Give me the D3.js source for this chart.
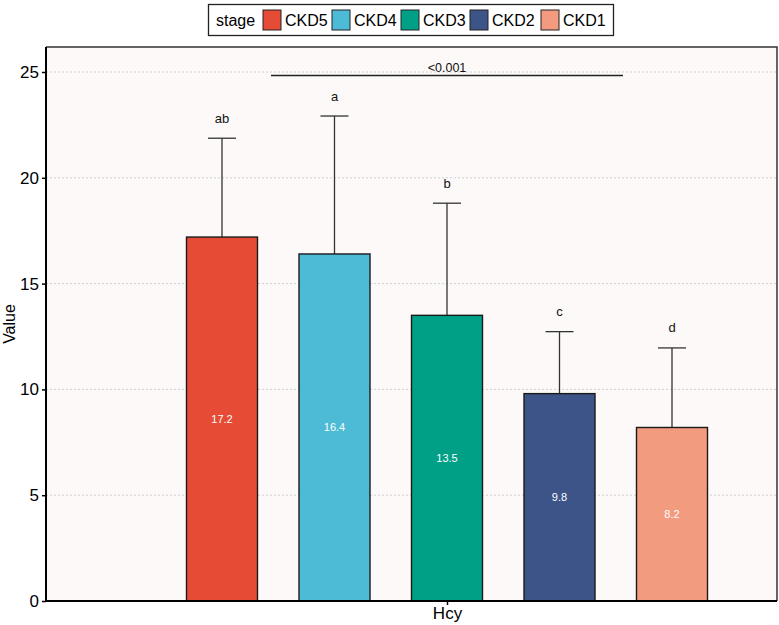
<!DOCTYPE html>
<html>
<head>
<meta charset="utf-8">
<script src="https://cdn.jsdelivr.net/npm/d3@7/dist/d3.min.js"></script>
<style>
  html, body { margin: 0; padding: 0; background: #ffffff; }
  svg { display: block; font-family: "Liberation Sans", Arial, Helvetica, sans-serif; }
</style>
</head>
<body>
<svg id="chart" width="779" height="625"></svg>
<script>
const stages = ["CKD5", "CKD4", "CKD3", "CKD2", "CKD1"];
const means = [17.2, 16.4, 13.5, 9.8, 8.2];
const upperErr = [21.87, 22.92, 18.8, 12.73, 11.96];
const letters = ["ab", "a", "b", "c", "d"];
const colors = ["#E64B35", "#4DBBD5", "#00A087", "#3C5488", "#F39B7F"];
const yTicks = [0, 5, 10, 15, 20, 25];
const variable = "Hcy";
const pLabel = "<0.001";

const svg = d3.select("#chart");
const panel = { left: 46, right: 777, top: 47, bottom: 601 };

const y = d3.scaleLinear().domain([0, 25]).range([601, 72]);
const x = d3.scalePoint().domain(stages).range([222, 672]);
const barW = 71;
const capW = 28;

// panel background
svg.append("rect")
  .attr("x", panel.left).attr("y", panel.top)
  .attr("width", panel.right - panel.left).attr("height", panel.bottom - panel.top)
  .attr("fill", "#FDF9F8");

// grid
svg.append("g").selectAll("line").data(yTicks.filter(d => d > 0)).join("line")
  .attr("x1", panel.left).attr("x2", panel.right)
  .attr("y1", d => y(d)).attr("y2", d => y(d))
  .attr("stroke", "#d0d0d0").attr("stroke-width", 1)
  .attr("stroke-dasharray", "2,2");

// error bars
const eb = svg.append("g");
stages.forEach((s, i) => {
  eb.append("line")
    .attr("x1", x(s)).attr("x2", x(s))
    .attr("y1", y(means[i])).attr("y2", y(upperErr[i]))
    .attr("stroke", "#333").attr("stroke-width", 1.3);
  eb.append("line")
    .attr("x1", x(s) - capW / 2).attr("x2", x(s) + capW / 2)
    .attr("y1", y(upperErr[i])).attr("y2", y(upperErr[i]))
    .attr("stroke", "#333").attr("stroke-width", 1.3);
});

// bars
svg.append("g").selectAll("rect").data(stages).join("rect")
  .attr("x", d => x(d) - barW / 2)
  .attr("width", barW)
  .attr("y", (d, i) => y(means[i]))
  .attr("height", (d, i) => y(0) - y(means[i]))
  .attr("fill", (d, i) => colors[i])
  .attr("stroke", "#1a1a1a").attr("stroke-width", 1.4);

// value labels
svg.append("g").selectAll("text").data(stages).join("text")
  .attr("x", d => x(d))
  .attr("y", (d, i) => y(means[i] / 2))
  .attr("dy", "0.35em")
  .attr("text-anchor", "middle")
  .attr("fill", "#ffffff")
  .attr("font-size", 11)
  .text((d, i) => means[i].toFixed(1));

// letters
svg.append("g").selectAll("text").data(stages).join("text")
  .attr("x", d => x(d))
  .attr("y", (d, i) => y(upperErr[i]) - 20)
  .attr("dy", "0.35em")
  .attr("text-anchor", "middle")
  .attr("fill", "#111")
  .attr("font-size", 13)
  .text((d, i) => letters[i]);

// significance line
svg.append("line")
  .attr("x1", 271).attr("x2", 623)
  .attr("y1", 75.5).attr("y2", 75.5)
  .attr("stroke", "#222").attr("stroke-width", 1.5);
svg.append("text")
  .attr("x", 447).attr("y", 72)
  .attr("text-anchor", "middle")
  .attr("font-size", 12.5).attr("fill", "#111")
  .text(pLabel);

// panel border top/right
svg.append("path")
  .attr("d", `M${panel.left},${panel.top}H${panel.right}V${panel.bottom}`)
  .attr("fill", "none").attr("stroke", "#333").attr("stroke-width", 1.5);

// y axis
const yAxis = d3.axisLeft(y).tickValues(yTicks).tickSize(4).tickPadding(3).tickSizeOuter(0);
const gy = svg.append("g").attr("transform", `translate(${panel.left},0)`).call(yAxis);
gy.select(".domain").attr("d", `M0,${panel.top}V${panel.bottom}`).attr("stroke", "#000").attr("stroke-width", 2);
gy.selectAll(".tick line").attr("stroke", "#000").attr("stroke-width", 1.5);
gy.selectAll(".tick text").attr("font-size", 17).attr("fill", "#000").attr("font-family", "Liberation Sans, Arial, sans-serif");

// x axis
const xBand = d3.scalePoint().domain([variable]).range([447, 447]);
const xAxis = d3.axisBottom(xBand).tickSize(4).tickPadding(2).tickSizeOuter(0);
const gx = svg.append("g").attr("transform", `translate(0,${panel.bottom})`).call(xAxis);
gx.select(".domain").attr("d", `M${panel.left},0H${panel.right}`).attr("stroke", "#000").attr("stroke-width", 2);
gx.selectAll(".tick line").attr("stroke", "#000").attr("stroke-width", 1.5);
gx.selectAll(".tick text").attr("font-size", 17).attr("fill", "#000").attr("font-family", "Liberation Sans, Arial, sans-serif");

// y label
svg.append("text")
  .attr("transform", `translate(9,${(panel.top + panel.bottom) / 2}) rotate(-90)`)
  .attr("text-anchor", "middle")
  .attr("dy", "0.35em")
  .attr("font-size", 16).attr("fill", "#000")
  .text("Value");

// legend
const lg = svg.append("g");
lg.append("rect").attr("x", 208.5).attr("y", 4.5).attr("width", 405).attr("height", 31)
  .attr("fill", "#fff").attr("stroke", "#222").attr("stroke-width", 1.3);
lg.append("text").attr("x", 216).attr("y", 20).attr("dy", "0.35em")
  .attr("font-size", 16).attr("fill", "#000").text("stage");
const legX = [263, 332, 401, 470, 541];
stages.forEach((s, i) => {
  lg.append("rect").attr("x", legX[i]).attr("y", 10).attr("width", 18).attr("height", 20)
    .attr("fill", colors[i]).attr("stroke", "#222").attr("stroke-width", 1);
  lg.append("text").attr("x", legX[i] + 22).attr("y", 20).attr("dy", "0.35em")
    .attr("font-size", 16).attr("fill", "#000").text(s);
});
</script>
</body>
</html>
